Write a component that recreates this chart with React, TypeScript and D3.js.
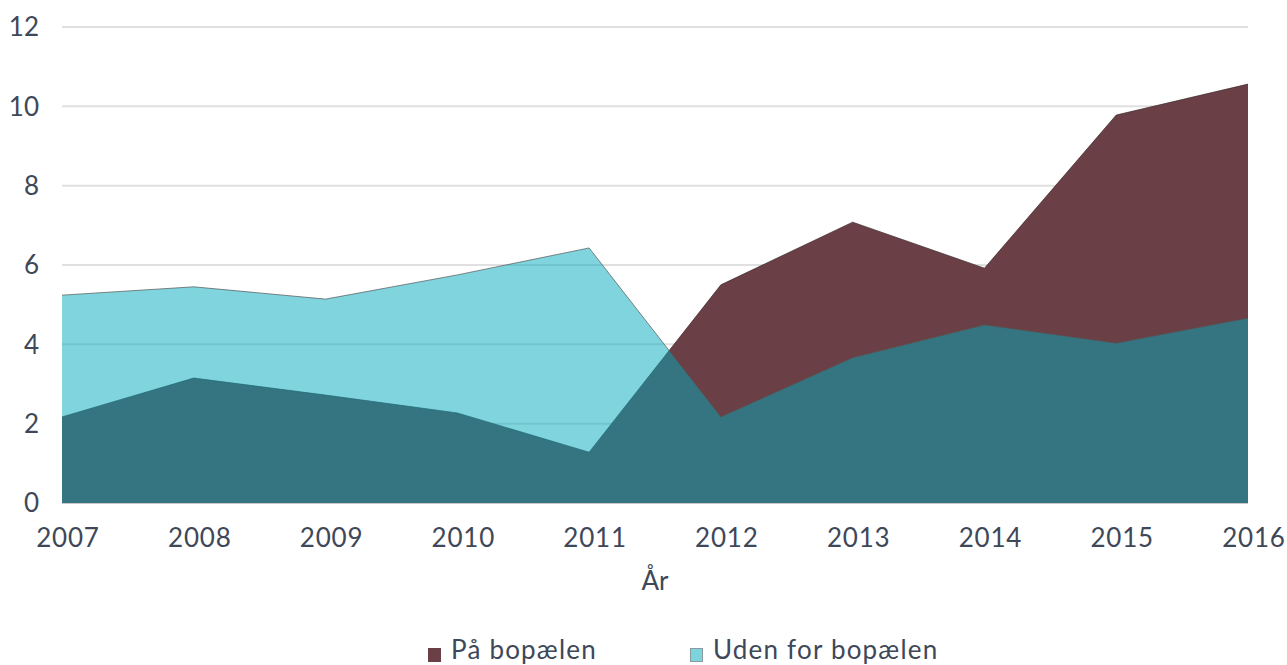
import * as d3 from 'd3';

// values
const years = [2007, 2008, 2009, 2010, 2011, 2012, 2013, 2014, 2015, 2016];
const paaBopaelen = [2.17, 3.15, 2.72, 2.27, 1.28, 5.5, 7.08, 5.92, 9.78, 10.56];
const udenForBopaelen = [5.24, 5.45, 5.14, 5.75, 6.43, 2.17, 3.66, 4.49, 4.03, 4.66];
const yTicks = [0, 2, 4, 6, 8, 10, 12];
const seriesNames = ['På bopælen', 'Uden for bopælen'];

const W = 1287;
const H = 665;
const left = 62;
const right = 1248;
const top = 27;
const bottom = 503;

const textColor = '#3e4858';
const font = 'Lato, "Open Sans", sans-serif';

export default function App() {
    const x = d3.scaleLinear().domain([2007, 2016]).range([left, right]);
    const y = d3.scaleLinear().domain([0, 12]).range([bottom, top]);

    const area = d3.area<number>()
        .x((d, i) => x(years[i]))
        .y0(y(0))
        .y1(d => y(d));

    const line = d3.line<number>()
        .x((d, i) => x(years[i]))
        .y(d => y(d));

    return (
        <div style={{ position: 'absolute', left: 0, top: 0 }}>
            <svg width={W} height={H} style={{ display: 'block', background: '#fff' }}>
                {/* gridlines */}
                {yTicks.map(t => (
                    <g key={t}>
                        <line x1={left} x2={right} y1={y(t)} y2={y(t)}
                            stroke={t === 0 ? '#c8c8c8' : '#e0e0e0'} strokeWidth={2} />
                        <text x={39} y={y(t)} dy="0.36em" textAnchor="end"
                            fontFamily={font} fontSize={26} fill={textColor}>{t}</text>
                    </g>
                ))}

                {/* På bopælen - opaque */}
                <path d={area(paaBopaelen) || ''} fill="#6a4046" />
                <path d={line(paaBopaelen) || ''} fill="none" stroke="#3a2a2c" strokeWidth={1} strokeOpacity={0.7} />

                {/* Uden for bopælen - semi transparent on top */}
                <path d={area(udenForBopaelen) || ''} fill="#00a9bb" fillOpacity={0.5} />
                <path d={line(udenForBopaelen) || ''} fill="none" stroke="#555" strokeWidth={1} strokeOpacity={0.7} />

                {/* x axis labels */}
                {years.map(yr => (
                    <text key={yr} x={x(yr) + 6} y={547} textAnchor="middle" letterSpacing={0.8}
                        fontFamily={font} fontSize={26} fill={textColor}>{yr}</text>
                ))}
                <text x={655} y={590} textAnchor="middle" fontFamily={font} fontSize={26} fill={textColor}>År</text>

                {/* legend */}
                <rect x={428} y={648} width={13} height={14} fill="#6a4046" />
                <text x={451} y={659} fontFamily={font} fontSize={26} letterSpacing={1.2} fill={textColor}>{seriesNames[0]}</text>
                <rect x={690.5} y={648.5} width={12} height={13} fill="#7dd4dd" stroke="#8a9aa0" strokeWidth={1} />
                <text x={713} y={659} fontFamily={font} fontSize={26} letterSpacing={1.2} fill={textColor}>{seriesNames[1]}</text>
            </svg>
        </div>
    );
}
